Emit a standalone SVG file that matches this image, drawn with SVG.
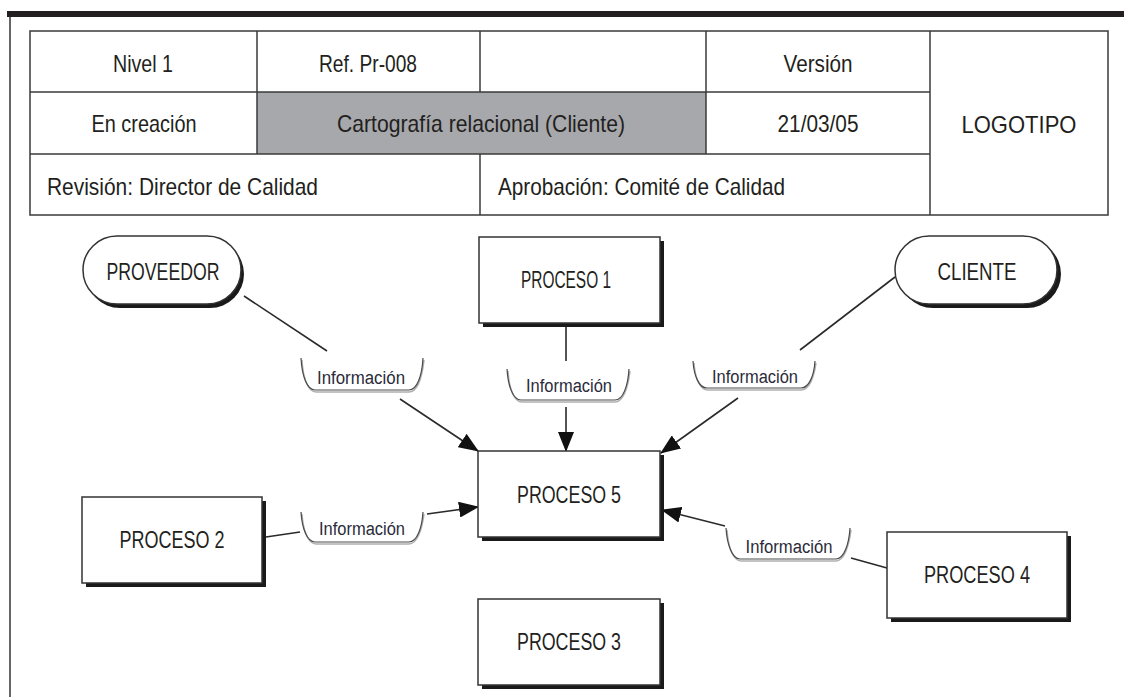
<svg xmlns="http://www.w3.org/2000/svg" width="1124" height="697" viewBox="0 0 1124 697">
<style>
  .t{font-family:"Liberation Sans",Arial,sans-serif;fill:#231f20;}
  .tb{font-size:24px;}
  .nd{font-size:23px;}
  .lb{font-size:18px;fill:#2b2b3a;}
  .grid{stroke:#3a3a3a;stroke-width:1.5;fill:none;}
  .box{fill:#ffffff;stroke:#333333;stroke-width:1.5;}
  .shadow{fill:#1a1a1a;}
  .conn{stroke:#2a2a2a;stroke-width:1.6;fill:none;}
  .br{stroke:#4a4a4a;stroke-width:1.2;fill:none;}
  .brs{stroke:#b0b0b0;stroke-width:1.5;fill:none;}
</style>
<defs>
  <marker id="arr" markerUnits="userSpaceOnUse" markerWidth="20" markerHeight="16" viewBox="0 0 20 16" refX="19" refY="8" orient="auto">
    <path d="M0,0 L20,8 L0,16 Z" fill="#111"/>
  </marker>
</defs>
<rect width="1124" height="697" fill="#ffffff"/>

<!-- page frame -->
<g id="frame">
  <rect x="7" y="11" width="1117" height="6" fill="#231f20"/>
  <line x1="10" y1="17" x2="10" y2="697" stroke="#333" stroke-width="1.5"/>
</g>

<!-- header table -->
<g id="header-table">
  <rect x="257" y="92" width="449" height="62" fill="#a7a8ab"/>
  <rect class="grid" x="30" y="31" width="1078" height="184"/>
  <line class="grid" x1="30" y1="92" x2="930" y2="92"/>
  <line class="grid" x1="30" y1="154" x2="930" y2="154"/>
  <line class="grid" x1="257" y1="31" x2="257" y2="154"/>
  <line class="grid" x1="480" y1="31" x2="480" y2="92"/>
  <line class="grid" x1="480" y1="154" x2="480" y2="215"/>
  <line class="grid" x1="706" y1="31" x2="706" y2="154"/>
  <line class="grid" x1="930" y1="31" x2="930" y2="215"/>
  <text class="t tb" x="143" y="72" text-anchor="middle" textLength="60" lengthAdjust="spacingAndGlyphs">Nivel 1</text>
  <text class="t tb" x="368" y="72" text-anchor="middle" textLength="98" lengthAdjust="spacingAndGlyphs">Ref. Pr-008</text>
  <text class="t tb" x="818" y="72" text-anchor="middle" textLength="69" lengthAdjust="spacingAndGlyphs">Versión</text>
  <text class="t tb" x="144" y="132" text-anchor="middle" textLength="105" lengthAdjust="spacingAndGlyphs">En creación</text>
  <text class="t tb" x="481" y="132" text-anchor="middle" textLength="288" lengthAdjust="spacingAndGlyphs">Cartografía relacional (Cliente)</text>
  <text class="t tb" x="818" y="132" text-anchor="middle" textLength="81" lengthAdjust="spacingAndGlyphs">21/03/05</text>
  <text class="t tb" x="1019" y="133" text-anchor="middle" textLength="115" lengthAdjust="spacingAndGlyphs">LOGOTIPO</text>
  <text class="t tb" x="47" y="195" textLength="271" lengthAdjust="spacingAndGlyphs">Revisión: Director de Calidad</text>
  <text class="t tb" x="498" y="195" textLength="287" lengthAdjust="spacingAndGlyphs">Aprobación: Comité de Calidad</text>
</g>

<!-- connectors -->
<g id="connectors">
  <line class="conn" x1="244" y1="296" x2="327" y2="351"/>
  <line class="conn" x1="400" y1="399" x2="478" y2="451" marker-end="url(#arr)"/>
  <line class="conn" x1="566" y1="323" x2="566" y2="361"/>
  <line class="conn" x1="566" y1="407" x2="566" y2="451" marker-end="url(#arr)"/>
  <line class="conn" x1="895" y1="277" x2="800" y2="350"/>
  <line class="conn" x1="738" y1="398" x2="661" y2="453" marker-end="url(#arr)"/>
  <line class="conn" x1="266" y1="537" x2="300" y2="532"/>
  <line class="conn" x1="427" y1="514" x2="478" y2="507" marker-end="url(#arr)"/>
  <line class="conn" x1="887" y1="568" x2="851" y2="558"/>
  <line class="conn" x1="725" y1="526" x2="662" y2="510" marker-end="url(#arr)"/>

  <g id="label-proveedor">
    <path class="brs" d="M302,360 C303,378 308,392 316,392 L409,392 C417,392 422,378 424,360"/>
    <path class="br" d="M301,358 C302,376 307,390 315,390 L409,390 C417,390 422,376 423,358"/>
    <text class="t lb" x="361" y="384" text-anchor="middle" textLength="88" lengthAdjust="spacingAndGlyphs">Información</text>
  </g>
  <g id="label-proceso1">
    <path class="brs" d="M508,371 C509,388 514,402 522,402 L615,402 C623,402 628,388 630,371"/>
    <path class="br" d="M507,369 C508,386 513,400 521,400 L615,400 C623,400 628,386 629,369"/>
    <text class="t lb" x="569" y="392" text-anchor="middle" textLength="86" lengthAdjust="spacingAndGlyphs">Información</text>
  </g>
  <g id="label-cliente">
    <path class="brs" d="M694,363 C695,378 700,390 708,390 L801,390 C809,390 814,378 816,363"/>
    <path class="br" d="M693,361 C694,376 699,388 707,388 L801,388 C809,388 814,376 815,361"/>
    <text class="t lb" x="755" y="383" text-anchor="middle" textLength="86" lengthAdjust="spacingAndGlyphs">Información</text>
  </g>
  <g id="label-proceso2">
    <path class="brs" d="M302,514 C303,530 308,544 316,544 L409,544 C417,544 422,530 424,514"/>
    <path class="br" d="M301,512 C302,528 307,542 315,542 L409,542 C417,542 422,528 423,512"/>
    <text class="t lb" x="362" y="535" text-anchor="middle" textLength="86" lengthAdjust="spacingAndGlyphs">Información</text>
  </g>
  <g id="label-proceso4">
    <path class="brs" d="M727,530 C728,546 733,561 741,561 L836,561 C844,561 849,546 851,530"/>
    <path class="br" d="M726,528 C727,544 732,559 740,559 L836,559 C844,559 849,544 850,528"/>
    <text class="t lb" x="789" y="553" text-anchor="middle" textLength="87" lengthAdjust="spacingAndGlyphs">Información</text>
  </g>
</g>

<!-- nodes -->
<g id="node-proveedor">
  <rect class="shadow" x="86" y="240" width="158" height="68" rx="34"/>
  <rect class="box" x="83" y="236" width="158" height="68" rx="34"/>
  <text class="t nd" x="163" y="280" text-anchor="middle" textLength="113" lengthAdjust="spacingAndGlyphs">PROVEEDOR</text>
</g>
<g id="node-proceso1">
  <rect class="shadow" x="483" y="241" width="181" height="86"/>
  <rect class="box" x="479" y="237" width="181" height="86"/>
  <text class="t nd" x="566" y="288" text-anchor="middle" textLength="90" lengthAdjust="spacingAndGlyphs">PROCESO 1</text>
</g>
<g id="node-cliente">
  <rect class="shadow" x="899" y="240" width="162" height="68" rx="34"/>
  <rect class="box" x="895" y="236" width="162" height="68" rx="34"/>
  <text class="t nd" x="977" y="280" text-anchor="middle" textLength="79" lengthAdjust="spacingAndGlyphs">CLIENTE</text>
</g>
<g id="node-proceso5">
  <rect class="shadow" x="482" y="455" width="182" height="86"/>
  <rect class="box" x="478" y="451" width="182" height="86"/>
  <text class="t nd" x="569" y="503" text-anchor="middle" textLength="104" lengthAdjust="spacingAndGlyphs">PROCESO 5</text>
</g>
<g id="node-proceso2">
  <rect class="shadow" x="86" y="501" width="180" height="86"/>
  <rect class="box" x="82" y="497" width="180" height="86"/>
  <text class="t nd" x="172" y="548" text-anchor="middle" textLength="105" lengthAdjust="spacingAndGlyphs">PROCESO 2</text>
</g>
<g id="node-proceso3">
  <rect class="shadow" x="482" y="603" width="182" height="86"/>
  <rect class="box" x="478" y="599" width="182" height="86"/>
  <text class="t nd" x="569" y="650" text-anchor="middle" textLength="104" lengthAdjust="spacingAndGlyphs">PROCESO 3</text>
</g>
<g id="node-proceso4">
  <rect class="shadow" x="891" y="536" width="180" height="86"/>
  <rect class="box" x="887" y="532" width="180" height="86"/>
  <text class="t nd" x="977" y="583" text-anchor="middle" textLength="106" lengthAdjust="spacingAndGlyphs">PROCESO 4</text>
</g>
</svg>
